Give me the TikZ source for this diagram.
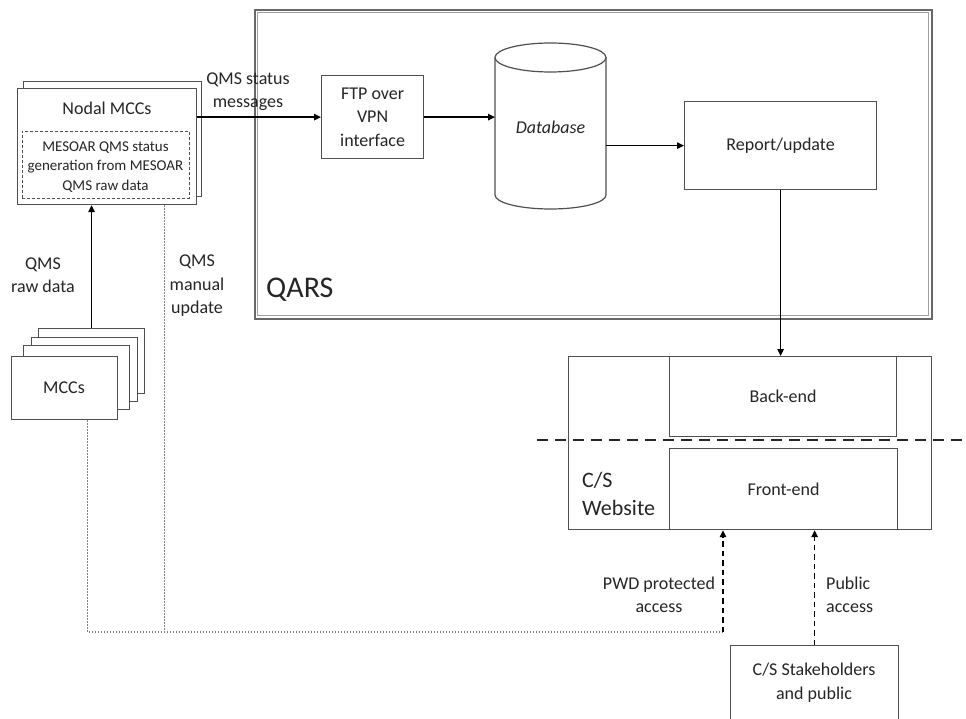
\documentclass[tikz,border=0pt]{standalone}
\usepackage{fontspec}
\setmainfont{Carlito}
\usetikzlibrary{arrows.meta,calc}
\definecolor{boxc}{HTML}{505050}
\definecolor{txtc}{HTML}{262626}
\definecolor{dotc}{HTML}{808080}
\definecolor{framec}{HTML}{686868}
\definecolor{framein}{HTML}{A0A0A0}
\begin{document}
\begin{tikzpicture}[x=1pt,y=-1pt,
  box/.style={draw=boxc, line width=1.2pt, fill=white, inner sep=0pt, anchor=north west},
  lbl/.style={text=txtc, font=\fontsize{18}{23.5}\selectfont, align=center, inner sep=0pt},
  small/.style={text=txtc, font=\fontsize{15}{19.5}\selectfont, align=center, inner sep=0pt},
  conn/.style={draw=black, line width=1.4pt, -{Triangle[length=7pt,width=6.5pt]}},
  dashconn/.style={draw=black, line width=1.3pt, dash pattern=on 5.5pt off 4pt, -{Triangle[length=7pt,width=6.5pt]}},
  dott/.style={draw=dotc, line width=1.1pt, dash pattern=on 1.5pt off 1.5pt},
  sepline/.style={draw=txtc, line width=2.6pt, dash pattern=on 11pt off 7pt}
]
\path[use as bounding box, clip] (0,0) rectangle (966,719);
\fill[white] (0,0) rectangle (966,719);

% QARS frame
\node[draw=framec, line width=1.8pt, inner sep=0pt, anchor=north west,
      minimum width=677pt, minimum height=309pt] (qars) at (254,9) {};
\node[draw=framein, line width=0.9pt, inner sep=0pt, anchor=north west,
      minimum width=671pt, minimum height=303pt] (qarsin) at (257,12) {};
\node[text=txtc, font=\fontsize{30}{36}\selectfont, anchor=west, inner sep=0pt] (qarslbl) at (266,290) {QARS};

% Nodal MCCs
\node[box, minimum width=178pt, minimum height=115pt] (nodalback) at (23,81) {};
\node[box, minimum width=179pt, minimum height=116pt] (nodal) at (17,88) {};
\node[lbl] (nodaltitle) at (107,108) {Nodal MCCs};
\node[draw=boxc, line width=0.8pt, dash pattern=on 3pt off 2pt, inner sep=0pt, anchor=north west,
      minimum width=167pt, minimum height=67pt] (inner) at (22,131) {};
\node[small] (innertxt) at (105.5,167) {MESOAR QMS status\\generation from MESOAR\\QMS raw data};

% MCCs stack
\node[box, minimum width=106pt, minimum height=65pt] (mcc4) at (38,328) {};
\node[box, minimum width=106pt, minimum height=64pt] (mcc3) at (31,337) {};
\node[box, minimum width=106pt, minimum height=64pt] (mcc2) at (23,345) {};
\node[box, minimum width=106pt, minimum height=63pt] (mcc1) at (11,356) {};
\node[lbl] (mcctxt) at (64,387.5) {MCCs};

% FTP
\node[box, minimum width=102pt, minimum height=83pt] (ftp) at (321,75) {};
\node[lbl] (ftptxt) at (ftp.center) {FTP over\\VPN\\interface};

% Database
\node[inner sep=0pt, anchor=north west, minimum width=111pt, minimum height=166pt] (db) at (495,43) {};
\draw[draw=boxc, line width=1.2pt, fill=white] (495,57.5) -- (495,195)
   arc[start angle=180, end angle=0, x radius=55.5, y radius=14] -- (606,57.5);
\draw[draw=boxc, line width=1.2pt, fill=white] (550.5,57.5) ellipse [x radius=55.5, y radius=14.5];
\node[lbl, font=\fontsize{18}{23.5}\selectfont\itshape] (dbtxt) at (550.5,127) {Database};

% Report/update
\node[box, minimum width=192pt, minimum height=88pt] (report) at (684,101) {};
\node[lbl] (reporttxt) at (report.center) {Report/update};

% C/S Website
\node[box, minimum width=363pt, minimum height=173pt] (cs) at (568,356) {};
\node[box, minimum width=227pt, minimum height=80pt] (back) at (669,356) {};
\node[box, minimum width=228pt, minimum height=81pt] (front) at (669,448) {};
\node[lbl] (backtxt) at (back.center) {Back-end};
\node[lbl] (fronttxt) at (front.center) {Front-end};
\node[text=txtc, font=\fontsize{22}{28}\selectfont, align=left, anchor=west, inner sep=0pt] (cstxt) at (582,494) {C/S\\Website};
\draw[sepline] (537,440) -- (966,440);

% Stakeholders
\node[box, minimum width=168pt, minimum height=90pt] (stake) at (730,645) {};
\node[lbl] (staketxt) at (814,682.5) {C/S Stakeholders\\and public};

% connectors
\draw[conn] (nodal.east |- ftp.west) -- (ftp.west);
\draw[conn] (ftp.east) -- (ftp.east -| db.west);
\draw[conn] (report.west -| db.east) -- (report.west);
\draw[conn] (report.south) -- (report.south |- cs.north);
\draw[conn] (mcc4.north) -- (mcc4.north |- nodal.south);

\coordinate (pwd) at (723,632);
\draw[dott] ([xshift=23pt]mcc1.south) |- (pwd);
\draw[dott] ([xshift=57.5pt]nodal.south) -- ([xshift=57.5pt]nodal.south |- pwd);
\draw[dashconn] (pwd) -- (pwd |- cs.south);
\draw[dashconn] (stake.north) -- (stake.north |- cs.south);

% labels
\node[lbl] (l1) at (248,91.5) {QMS status\\messages};
\node[lbl] (l2) at (43,275) {QMS\\raw data};
\node[lbl] (l3) at (197,286) {QMS\\manual\\update};
\node[lbl] (l4) at (659,595) {PWD protected\\access};
\node[lbl, align=left, anchor=west] (l5) at (826,595) {Public\\access};
\end{tikzpicture}
\end{document}
